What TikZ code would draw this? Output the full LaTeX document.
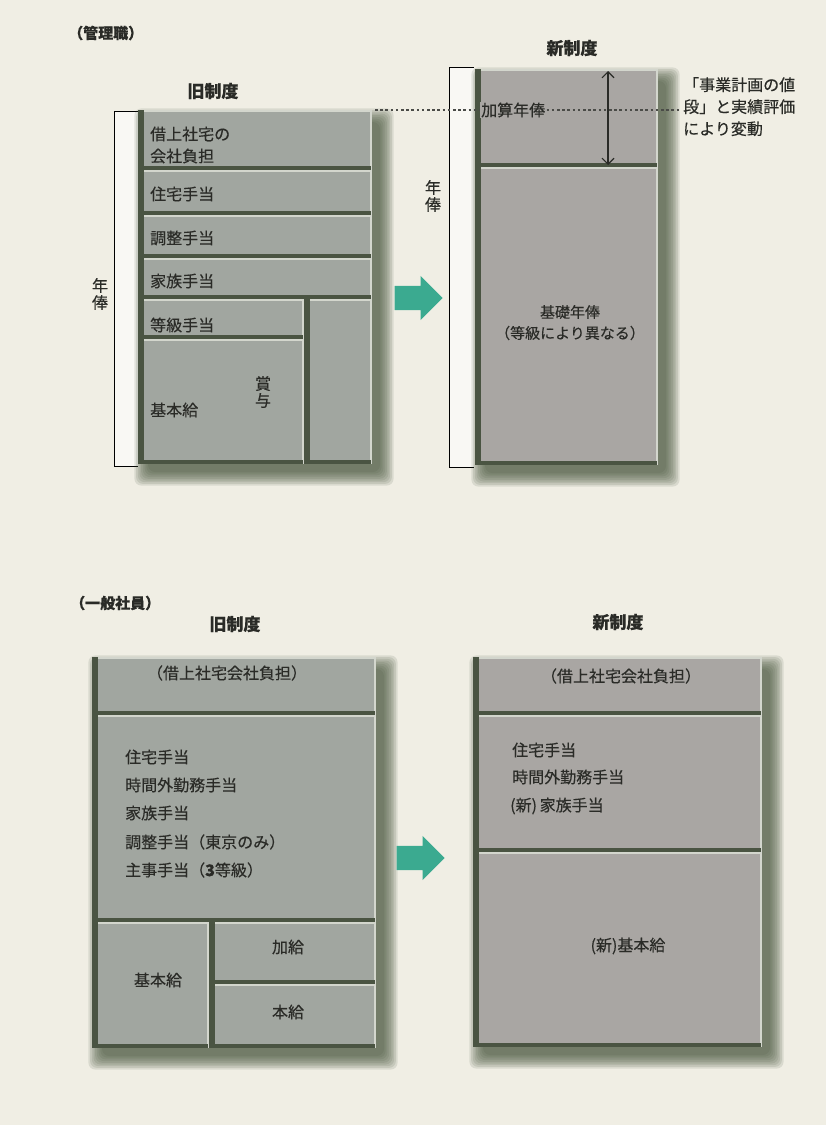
\documentclass[tikz,border=0pt]{standalone}
\usepackage{fontspec}
\setmainfont{Noto Sans CJK JP}[FakeBold=0.35]
\usetikzlibrary{shapes.arrows,arrows.meta}
\definecolor{bg}{HTML}{F0EEE4}
\definecolor{oldc}{HTML}{A1A6A0}
\definecolor{newc}{HTML}{A9A6A3}
\definecolor{locol}{HTML}{4A5442}
\definecolor{hicol}{HTML}{D3D6CD}
\definecolor{shcol}{HTML}{44533A}
\definecolor{ink}{HTML}{2A2B27}
\definecolor{teal}{HTML}{3BAA90}
\tikzset{
  blkbase/.style={rectangle, draw=none, inner sep=0pt, outer sep=0pt},
  txt/.style={inner sep=0pt, text=ink, font=\fontsize{16}{22}\selectfont},
  ttl/.style={inner sep=0pt, text=ink, font=\fontsize{17}{20}\selectfont\bfseries},
  brk/.style={draw=black, line width=0.9pt, fill=white!60!bg},
  bigarrow/.style={single arrow, fill=teal, draw=none, minimum height=48pt, single arrow head extend=10pt, single arrow head indent=0pt, inner xsep=0pt, inner ysep=12pt, anchor=tip},
}
\newcommand\blk[6]{%
  \node[blkbase, fill=#6, anchor=north west, minimum width={(#4-(#2))*1pt}, minimum height={(#5-(#3))*1pt}] (#1) at (#2,#3) {};
  \fill[hicol] (#1.north west) rectangle ([yshift=-2pt]#1.north east);
  \fill[hicol] (#1.north east) rectangle ([xshift=-2.5pt]#1.south east);
  \fill[locol] (#1.north west) rectangle ([xshift=5.5pt]#1.south west);
  \fill[locol] ([yshift=4pt]#1.south west) rectangle ([xshift=-1pt]#1.south east);
}
\newcommand\shd[4]{%
  \foreach \r in {0,...,8}{
    \fill[shcol, opacity=0.13, rounded corners=7pt] ({#1+10-\r*1.7},{#2+12-\r*1.7}) rectangle ({#3+8+\r*1.7},{#4+8+\r*1.7});
  }}
\begin{document}
\begin{tikzpicture}[x=1pt,y=-1pt]
\fill[bg] (0,0) rectangle (826,1125);
\useasboundingbox (0,0) rectangle (826,1125);

% ===== top section =====
\node[ttl, anchor=west, font=\fontsize{15}{16}\selectfont\bfseries] (h1) at (68,33) {（管理職）};
\node[ttl] (oldt1) at (213,91) {旧制度};
\node[ttl] (newt1) at (572,48) {新制度};

% bracket left
\draw[brk] (138,111) -- (114,111) -- (114,466) -- (138,466);
\node[txt, align=center, font=\fontsize{16}{17}\selectfont] (ann1) at (100,294) {年\\俸};

\shd{138}{110}{372}{464}
\blk{t1}{138}{110}{372}{170}{oldc}
\blk{t2}{138}{170}{372}{215}{oldc}
\blk{t3}{138}{215}{372}{258}{oldc}
\blk{t4}{138}{258}{372}{299}{oldc}
\blk{t5}{138}{299}{304}{339}{oldc}
\blk{t6}{138}{339}{304}{464}{oldc}
\blk{t7}{304}{299}{372}{464}{oldc}

\node[txt, anchor=west, align=left] (l1) at (150,145) {借上社宅の\\会社負担};
\node[txt, anchor=west] (l2) at (150,194) {住宅手当};
\node[txt, anchor=west] (l3) at (150,238) {調整手当};
\node[txt, anchor=west] (l4) at (150,281) {家族手当};
\node[txt, anchor=west] (l5) at (150,325) {等級手当};
\node[txt, anchor=west] (l6) at (150,410) {基本給};
\node[txt, align=center, font=\fontsize{16}{17}\selectfont] (l7) at (263,392) {賞\\与};

% arrow
\node[bigarrow] (ar1) at (443,298) {};

% right bracket
\draw[brk] (474,67) -- (449,67) -- (449,467) -- (474,467);
\node[txt, align=center, font=\fontsize{16}{17}\selectfont] (ann2) at (433,196) {年\\俸};

\shd{475}{69}{658}{465}
\blk{n1}{475}{69}{658}{167}{newc}
\blk{n2}{475}{167}{658}{465}{newc}

\coordinate (dl1) at (375,110);
\coordinate (dl2) at (680,110);
\draw[ink!85, line width=1.6pt, dash pattern=on 2.6pt off 2.6pt] (dl1) -- (dl2);
\coordinate (da1) at (608,71);
\coordinate (da2) at (608,165);
\draw[ink, line width=1.1pt, {Straight Barb[length=6pt,width=12pt]}-{Straight Barb[length=6pt,width=12pt]}] (da1) -- (da2);
\node[txt, anchor=west, fill=newc, inner sep=1pt] (m1) at (480,110) {加算年俸};
\node[txt, align=center, font=\fontsize{15}{16}\selectfont] (m2) at (570,312) {基礎年俸};
\node[txt, align=center, font=\fontsize{15}{16}\selectfont] (m3) at (570,333) {（等級により異なる）};
\node[txt, anchor=north west, align=left] (note) at (683,77) {「事業計画の値\\段」と実績評価\\により変動};

% ===== bottom section =====
\node[ttl, anchor=west, font=\fontsize{15}{16}\selectfont\bfseries] (h2) at (70,603) {（一般社員）};
\node[ttl] (oldt2) at (235,624) {旧制度};
\node[ttl] (newt2) at (618,622) {新制度};

\shd{92}{657}{376}{1048}
\blk{b1}{92}{657}{376}{715}{oldc}
\blk{b2}{92}{715}{376}{922}{oldc}
\blk{b3}{92}{922}{209}{1048}{oldc}
\blk{b4}{209}{922}{376}{984}{oldc}
\blk{b5}{209}{984}{376}{1048}{oldc}

\node[txt] (p1) at (227,673) {（借上社宅会社負担）};
\node[txt, anchor=west] (p2) at (125,757) {住宅手当};
\node[txt, anchor=west] (p3) at (125,785) {時間外勤務手当};
\node[txt, anchor=west] (p4) at (125,813) {家族手当};
\node[txt, anchor=west] (p5) at (125,842) {調整手当（東京のみ）};
\node[txt, anchor=west] (p6) at (125,870) {主事手当（\textbf{3}等級）};
\node[txt] (p7) at (158,980) {基本給};
\node[txt] (p8) at (288,947) {加給};
\node[txt] (p9) at (288,1012) {本給};

\node[bigarrow] (ar2) at (445,858) {};

\shd{473}{657}{762}{1047}
\blk{c1}{473}{657}{762}{715}{newc}
\blk{c2}{473}{715}{762}{852}{newc}
\blk{c3}{473}{852}{762}{1047}{newc}

\node[txt] (q1) at (621,676) {（借上社宅会社負担）};
\node[txt, anchor=west] (q2) at (512,750) {住宅手当};
\node[txt, anchor=west] (q3) at (512,777) {時間外勤務手当};
\node[txt, anchor=west] (q4) at (510,806) {(新)\,家族手当};
\node[txt] (q5) at (628,946) {(新)基本給};
\end{tikzpicture}
\end{document}
